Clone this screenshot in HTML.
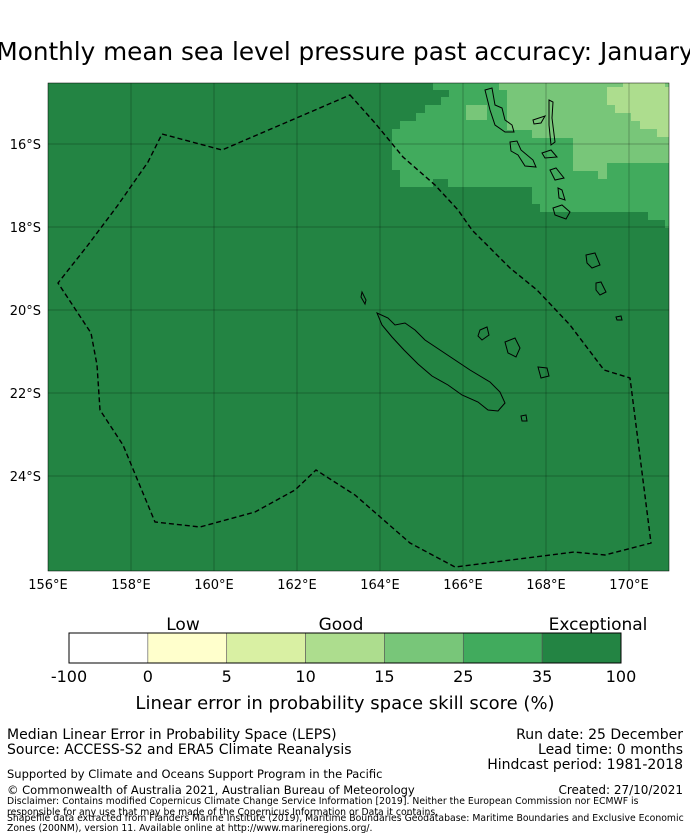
<!DOCTYPE html>
<html><head><meta charset="utf-8"><style>
body{margin:0;background:#fff;font-family:"DejaVu Sans","Liberation Sans",sans-serif;}
svg{display:block}
</style></head><body>
<svg width="690" height="839" viewBox="0 0 690 839" font-family="DejaVu Sans, Liberation Sans, sans-serif">
<text x="345" y="60" font-size="24.7" text-anchor="middle">Monthly mean sea level pressure past accuracy: January</text>
<g>
<rect x="48" y="83" width="621" height="488" fill="#238443"/>
<polygon fill="#41ab5d" points="433,83 669,83 669,228 665,228 665,220 648,220 648,212 548,212 540,212 540,204 532,204 532,187 448,187 448,179 433,179 433,187 400,187 400,170 392,170 392,129 400,129 400,121 416,121 416,113 425,113 425,105 441,105 441,97 449,97 449,90 433,90"/>
<polygon fill="#78c679" points="507,83 669,83 669,163 607,163 607,179 598,179 598,171 573,171 573,163 573,138 532,138 532,130 507,130 507,90 499,90 499,83"/>
<rect x="466" y="105" width="21" height="15" fill="#78c679"/>
<polygon fill="#addd8e" points="623,83 665,83 665,87 669,87 669,137 657,137 657,129 640,129 640,121 631,121 631,113 615,113 615,105 607,105 607,87 623,87"/>
<g stroke="#000" stroke-opacity="0.25" stroke-width="1">
<line x1="131" y1="83" x2="131" y2="571"/><line x1="214" y1="83" x2="214" y2="571"/><line x1="297" y1="83" x2="297" y2="571"/><line x1="380" y1="83" x2="380" y2="571"/><line x1="463" y1="83" x2="463" y2="571"/><line x1="546" y1="83" x2="546" y2="571"/><line x1="629" y1="83" x2="629" y2="571"/>
<line x1="48" y1="144" x2="669" y2="144"/><line x1="48" y1="227" x2="669" y2="227"/><line x1="48" y1="310" x2="669" y2="310"/><line x1="48" y1="393" x2="669" y2="393"/><line x1="48" y1="476" x2="669" y2="476"/>
</g>
<polygon fill="none" stroke="#000" stroke-width="1.4" stroke-dasharray="5,3" points="350,95 375,123 403,157 435,185 458,210 472,230 510,268 537,290 570,325 604,370 630,378 651,543 605,555 574,552 455,567 410,543 355,495 316,470 295,490 255,512 200,527 155,522 123,445 100,410 97,365 91,333 58,283 88,245 118,205 148,162 162,134 222,150"/>
<g fill="none" stroke="#000" stroke-width="1">
<path d="M377,313 L388,318 L395,325 L405,323 L415,330 L425,340 L440,350 L455,360 L470,370 L490,382 L500,392 L505,403 L498,411 L488,410 L478,402 L462,395 L448,385 L432,376 L418,364 L404,350 L392,337 L382,325 Z"/>
<path d="M362,292 L366,300 L365,304 L361,297 Z"/>
<path d="M480,330 L487,327 L489,335 L482,340 L478,336 Z"/>
<path d="M505,342 L515,338 L520,348 L516,357 L508,353 Z"/>
<path d="M538,367 L547,368 L549,376 L541,378 Z"/>
<path d="M521,416 L526,415 L527,421 L522,421 Z"/>
<path d="M485,90 L492,88 L495,105 L502,108 L505,120 L512,125 L514,132 L505,132 L495,125 L490,110 Z"/>
<path d="M533,120 L545,116 L541,123 L534,124 Z"/>
<path d="M549,100 L553,102 L552,118 L555,142 L551,145 L549,125 Z"/>
<path d="M510,142 L517,141 L521,150 L533,160 L536,167 L525,166 L518,155 L511,151 Z"/>
<path d="M542,153 L551,150 L557,157 L545,158 Z"/>
<path d="M550,170 L556,168 L564,178 L555,180 Z"/>
<path d="M558,188 L562,190 L565,200 L559,198 Z"/>
<path d="M553,208 L562,205 L570,212 L566,219 L555,215 Z"/>
<path d="M586,255 L595,253 L600,265 L592,268 L587,263 Z"/>
<path d="M596,283 L601,282 L606,292 L600,295 L596,290 Z"/>
<path d="M616,317 L621,316 L622,320 L617,320 Z"/>
</g>
<rect x="48" y="83" width="621" height="488" fill="none" stroke="#000" stroke-width="0.5"/>
</g>
<g font-size="13" text-anchor="end">
<text x="41" y="149">16°S</text><text x="41" y="232">18°S</text><text x="41" y="315">20°S</text><text x="41" y="398">22°S</text><text x="41" y="481">24°S</text>
</g>
<g font-size="13" text-anchor="middle">
<text x="48" y="589">156°E</text><text x="131" y="589">158°E</text><text x="214" y="589">160°E</text><text x="297" y="589">162°E</text><text x="380" y="589">164°E</text><text x="463" y="589">166°E</text><text x="546" y="589">168°E</text><text x="629" y="589">170°E</text>
</g>
<g id="cbar"></g>
<g font-size="17" text-anchor="middle">
<text x="183" y="630">Low</text><text x="341" y="630">Good</text><text x="598" y="630">Exceptional</text>
</g>
<text x="345" y="709" font-size="18" text-anchor="middle">Linear error in probability space skill score (%)</text>
<g font-size="14">
<text x="7" y="739">Median Linear Error in Probability Space (LEPS)</text>
<text x="7" y="754">Source: ACCESS-S2 and ERA5 Climate Reanalysis</text>
<text x="7" y="778" font-size="11.5">Supported by Climate and Oceans Support Program in the Pacific</text>
<text x="7" y="794" font-size="11.5">© Commonwealth of Australia 2021, Australian Bureau of Meteorology</text>
</g>
<g font-size="14" text-anchor="end">
<text x="683" y="739">Run date: 25 December</text>
<text x="683" y="754">Lead time: 0 months</text>
<text x="683" y="769">Hindcast period: 1981-2018</text>
<text x="683" y="794" font-size="12">Created: 27/10/2021</text>
</g>
<g font-size="9.3">
<text x="7" y="804">Disclaimer: Contains modified Copernicus Climate Change Service Information [2019]. Neither the European Commission nor ECMWF is</text>
<text x="7" y="815">responsible for any use that may be made of the Copernicus Information or Data it contains.</text>
<text x="7" y="821">Shapefile data extracted from Flanders Marine Institute (2019), Maritime Boundaries Geodatabase: Maritime Boundaries and Exclusive Economic</text>
<text x="7" y="831">Zones (200NM), version 11. Available online at http://www.marineregions.org/.</text>
</g>
</svg>
<script>
const binLabels = ["-100","0","5","10","15","25","35","100"];
const binColors = ["#ffffff","#ffffcc","#d9f0a3","#addd8e","#78c679","#41ab5d","#238443"];
const g = document.getElementById('cbar');
const ns = "http://www.w3.org/2000/svg";
const x0 = 69, x1 = 621, y0 = 633, h = 30;
const w = (x1 - x0) / binColors.length;
binColors.forEach((c, i) => {
  const r = document.createElementNS(ns, 'rect');
  r.setAttribute('x', x0 + i * w); r.setAttribute('y', y0);
  r.setAttribute('width', w); r.setAttribute('height', h);
  r.setAttribute('fill', c); r.setAttribute('stroke', '#555'); r.setAttribute('stroke-width', '0.6');
  
  
  g.appendChild(r);
});
const fr = document.createElementNS(ns, 'rect');
fr.setAttribute('x', x0); fr.setAttribute('y', y0); fr.setAttribute('width', x1 - x0); fr.setAttribute('height', h);
fr.setAttribute('fill', 'none'); fr.setAttribute('stroke', '#000'); fr.setAttribute('stroke-width', '1');


g.appendChild(fr);
binLabels.forEach((l, i) => {
  const t = document.createElementNS(ns, 'text');
  t.setAttribute('x', x0 + i * w); t.setAttribute('y', 682);
  t.setAttribute('font-size', '16'); t.setAttribute('text-anchor', 'middle');
  t.textContent = l;
  
  
  g.appendChild(t);
});
</script>
</body></html>
